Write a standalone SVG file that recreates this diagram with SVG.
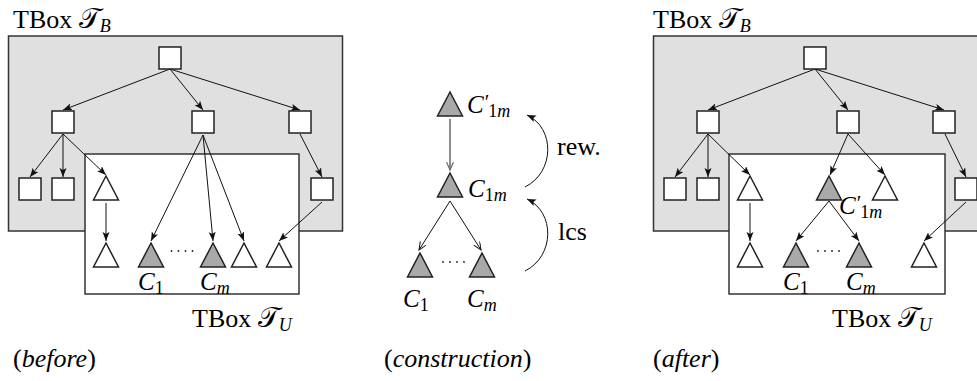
<svg xmlns="http://www.w3.org/2000/svg" width="977" height="381" viewBox="0 0 977 381">
<defs>
<style>
.lbl{font-size:26px}
.cal{font-size:28px}
.m{font-size:25px;font-style:italic}
.sub{font-size:18px}
.pr{font-size:21px;font-style:normal}
.grey{fill:#e0e0e0;stroke:#333;stroke-width:1.5}
.white{fill:#fff;stroke:#333;stroke-width:1.5}
.sq{fill:#fff;stroke:#222;stroke-width:1.5}
.tw{fill:#fff;stroke:#222;stroke-width:1.5}
.tg{fill:#a9a9a9;stroke:#222;stroke-width:1.5}
.e{fill:none;stroke:#111;stroke-width:1;marker-end:url(#ah)}
.eo{fill:none;stroke:#111;stroke-width:1;marker-end:url(#ao)}
.eg{fill:none;stroke:#666;stroke-width:1.5;marker-end:url(#ag)}
.dot{fill:#222}
</style>
<marker id="ah" markerUnits="userSpaceOnUse" markerWidth="10" markerHeight="8" refX="9" refY="3.5" orient="auto">
<path d="M0,0 L9,3.5 L0,7 L2,3.5 z" fill="#111"/>
</marker>
<marker id="ao" markerUnits="userSpaceOnUse" markerWidth="10" markerHeight="8" refX="8" refY="3.5" orient="auto">
<path d="M0,0 L8,3.5 L0,7" fill="none" stroke="#111" stroke-width="1"/>
</marker>
<marker id="ag" markerUnits="userSpaceOnUse" markerWidth="10" markerHeight="8" refX="8" refY="3.5" orient="auto">
<path d="M0,0 L8,3.5 L0,7" fill="none" stroke="#666" stroke-width="1.2"/>
</marker>
<path id="tri" d="M0,0 L12.5,24 L-12.5,24 Z"/>
</defs>

<g font-family="'Liberation Serif', 'Times New Roman', 'DejaVu Serif', serif" fill="#000">

<!-- ============ BEFORE ============ -->
<g id="before-tbox-b">
<rect class="grey" x="8.5" y="36" width="334" height="195"/>
<text class="lbl" x="13" y="28">TBox <tspan class="cal">𝒯</tspan><tspan class="sub" font-style="italic" dy="4">B</tspan></text>
</g>
<g id="before-tbox-u">
<rect class="white" x="85" y="154" width="214" height="140"/>
<text class="lbl" x="192" y="327">TBox <tspan class="cal">𝒯</tspan><tspan class="sub" font-style="italic" dy="4">U</tspan></text>
</g>

<g id="before-connectors">
<path class="e" d="M170,69 L63,110"/>
<path class="e" d="M170,69 L203,110"/>
<path class="e" d="M170,69 L300,110"/>
<path class="e" d="M63,134 L30,177"/>
<path class="e" d="M63,134 L63,177"/>
<path class="e" d="M63,134 L106,175"/>
<path class="e" d="M106,203 L106,241"/>
<path class="e" d="M203,135 L151,241"/>
<path class="e" d="M203,135 L213,241"/>
<path class="e" d="M203,135 L244,241"/>
<path class="e" d="M300,134 L322,177"/>
<path class="e" d="M322,202 L279,241"/>
</g>

<g id="b-n0"><rect class="sq" x="159" y="47" width="22" height="22"/></g>
<g id="b-n1"><rect class="sq" x="52" y="111" width="22" height="22"/></g>
<g id="b-n2"><rect class="sq" x="192" y="111" width="22" height="22"/></g>
<g id="b-n3"><rect class="sq" x="289" y="111" width="22" height="22"/></g>
<g id="b-n4"><rect class="sq" x="19" y="178" width="22" height="22"/></g>
<g id="b-n5"><rect class="sq" x="52" y="178" width="22" height="22"/></g>
<g id="b-n6"><rect class="sq" x="311" y="178" width="22" height="22"/></g>
<g id="b-t1"><use href="#tri" class="tw" x="106" y="176"/></g>
<g id="b-t2"><use href="#tri" class="tw" x="106" y="243"/></g>
<g id="b-c1"><use href="#tri" class="tg" x="151" y="243"/>
<text class="m" x="138" y="290">C<tspan class="sub" font-style="normal" dy="4">1</tspan></text></g>
<g id="b-cm"><use href="#tri" class="tg" x="213" y="243"/>
<text class="m" x="200" y="290">C<tspan class="sub" dy="4">m</tspan></text></g>
<g id="b-t3"><use href="#tri" class="tw" x="244" y="243"/></g>
<g id="b-t4"><use href="#tri" class="tw" x="279" y="243"/></g>
<g id="b-dots"><circle class="dot" cx="171.5" cy="251" r="0.9"/><circle class="dot" cx="178.5" cy="251" r="0.9"/><circle class="dot" cx="185.5" cy="251" r="0.9"/><circle class="dot" cx="192.5" cy="251" r="0.9"/></g>
<text class="lbl" x="13" y="367">(<tspan font-style="italic">before</tspan>)</text>

<!-- ============ CONSTRUCTION ============ -->
<g id="construction-connectors">
<path class="eg" d="M450,119 L450,170"/>
<path class="eo" d="M450,201 L419,250"/>
<path class="eo" d="M450,201 L481,250"/>
<path class="e" d="M525,187 C555,172 555,128 527,115"/>
<path class="e" d="M525,271 C555,256 555,212 527,199"/>
</g>
<g id="m-c1mp"><use href="#tri" class="tg" x="450" y="92"/>
<text class="m" x="467" y="113">C<tspan class="pr" dx="1" dy="-4">′</tspan><tspan class="sub" font-style="normal" dx="-1" dy="8">1</tspan><tspan class="sub">m</tspan></text></g>
<g id="m-c1m"><use href="#tri" class="tg" x="450" y="173"/>
<text class="m" x="468" y="197">C<tspan class="sub" font-style="normal" dy="4">1</tspan><tspan class="sub">m</tspan></text></g>
<g id="m-c1"><use href="#tri" class="tg" x="420" y="253"/>
<text class="m" x="403" y="307">C<tspan class="sub" font-style="normal" dy="4">1</tspan></text></g>
<g id="m-cm"><use href="#tri" class="tg" x="482" y="253"/>
<text class="m" x="467" y="307">C<tspan class="sub" dy="4">m</tspan></text></g>
<g id="m-dots"><circle class="dot" cx="443" cy="262" r="0.9"/><circle class="dot" cx="450" cy="262" r="0.9"/><circle class="dot" cx="457" cy="262" r="0.9"/><circle class="dot" cx="464" cy="262" r="0.9"/></g>
<text class="lbl" x="557" y="155">rew.</text>
<text class="lbl" x="558" y="240">lcs</text>
<text class="lbl" x="384" y="367">(<tspan font-style="italic">construction</tspan>)</text>

<!-- ============ AFTER ============ -->
<g id="after-tbox-b">
<rect class="grey" x="653.5" y="36" width="334" height="195"/>
<text class="lbl" x="653" y="28">TBox <tspan class="cal">𝒯</tspan><tspan class="sub" font-style="italic" dy="4">B</tspan></text>
</g>
<g id="after-tbox-u">
<rect class="white" x="729" y="154" width="216" height="140"/>
<text class="lbl" x="832" y="327">TBox <tspan class="cal">𝒯</tspan><tspan class="sub" font-style="italic" dy="4">U</tspan></text>
</g>

<g id="after-connectors">
<path class="e" d="M815,69 L708,110"/>
<path class="e" d="M815,69 L848,110"/>
<path class="e" d="M815,69 L944,110"/>
<path class="e" d="M708,134 L675,177"/>
<path class="e" d="M708,134 L708,177"/>
<path class="e" d="M708,134 L750,175"/>
<path class="e" d="M750,203 L750,241"/>
<path class="e" d="M848,134 L830,175"/>
<path class="e" d="M848,134 L885,175"/>
<path class="e" d="M829,201 L796,241"/>
<path class="e" d="M829,201 L859,241"/>
<path class="e" d="M945,134 L966,177"/>
<path class="e" d="M966,202 L924,241"/>
</g>

<g id="a-n0"><rect class="sq" x="804" y="47" width="22" height="22"/></g>
<g id="a-n1"><rect class="sq" x="697" y="111" width="22" height="22"/></g>
<g id="a-n2"><rect class="sq" x="837" y="111" width="22" height="22"/></g>
<g id="a-n3"><rect class="sq" x="933" y="111" width="22" height="22"/></g>
<g id="a-n4"><rect class="sq" x="664" y="178" width="22" height="22"/></g>
<g id="a-n5"><rect class="sq" x="697" y="178" width="22" height="22"/></g>
<g id="a-n6"><rect class="sq" x="955" y="178" width="22" height="22"/></g>
<g id="a-t1"><use href="#tri" class="tw" x="750" y="176"/></g>
<g id="a-c1mp"><use href="#tri" class="tg" x="829" y="176"/>
<text class="m" x="839" y="214">C<tspan class="pr" dx="1" dy="-4">′</tspan><tspan class="sub" font-style="normal" dx="-1" dy="8">1</tspan><tspan class="sub">m</tspan></text></g>
<g id="a-t5"><use href="#tri" class="tw" x="885" y="176"/></g>
<g id="a-t2"><use href="#tri" class="tw" x="750" y="243"/></g>
<g id="a-c1"><use href="#tri" class="tg" x="796" y="243"/>
<text class="m" x="783" y="290">C<tspan class="sub" font-style="normal" dy="4">1</tspan></text></g>
<g id="a-cm"><use href="#tri" class="tg" x="859" y="243"/>
<text class="m" x="846" y="290">C<tspan class="sub" dy="4">m</tspan></text></g>
<g id="a-t4"><use href="#tri" class="tw" x="924" y="243"/></g>
<g id="a-dots"><circle class="dot" cx="818" cy="251" r="0.9"/><circle class="dot" cx="825" cy="251" r="0.9"/><circle class="dot" cx="832" cy="251" r="0.9"/><circle class="dot" cx="839" cy="251" r="0.9"/></g>
<text class="lbl" x="653" y="367">(<tspan font-style="italic">after</tspan>)</text>
</g>
</svg>
